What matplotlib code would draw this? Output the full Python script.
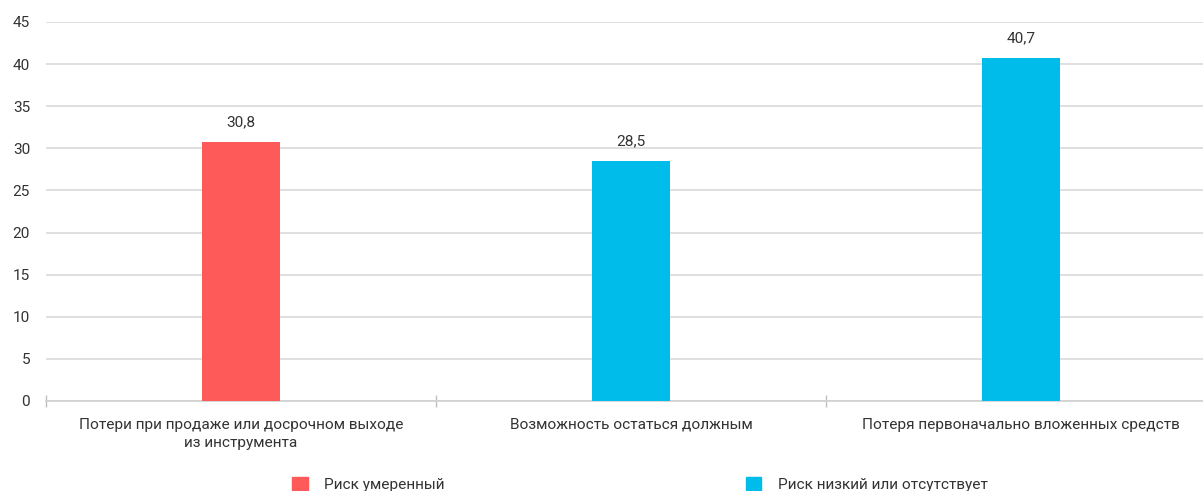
import numpy as np
import matplotlib
matplotlib.use('Agg')
from matplotlib import pyplot as plt
from matplotlib.patches import Patch

categories = ['Потери при продаже или досрочном выходе\nиз инструмента',
              'Возможность остаться должным',
              'Потеря первоначально вложенных средств']
values = [30.8, 28.5, 40.7]
risk = [0, 1, 1]
risk_names = ['Риск умеренный', 'Риск низкий или отсутствует']
risk_colors = ['#FF5A5A', '#00BCEB']
yticks = [0, 5, 10, 15, 20, 25, 30, 35, 40, 45]

plt.rcParams['font.family'] = ['Roboto', 'DejaVu Sans']
txt = '#333333'
fs = 11.1

fig = plt.figure(figsize=(12.03, 4.91), dpi=100)
ax = fig.add_axes([46 / 1203, 90 / 491, 1170 / 1203, 379 / 491])

x = np.arange(len(values))
cols = [risk_colors[r] for r in risk]
ax.bar(x, values, width=0.2, color=cols, zorder=3)
for i in range(len(x)):
    ax.annotate(('%.1f' % values[i]).replace('.', ','), xy=(x[i], values[i]),
                xytext=(0, 9), textcoords='offset points', ha='center', va='bottom',
                fontsize=fs, color=txt)

ax.set_xlim(-0.5, 2.5)
ax.set_ylim(0, 45)
ax.set_yticks(yticks)
ax.set_yticklabels([str(t) for t in yticks], fontsize=fs, color=txt)
ax.yaxis.grid(True, color='#d9d9d9', linewidth=1.2, zorder=0)
ax.set_xticks(x)
ax.set_xticklabels(categories, fontsize=fs, color=txt, linespacing=1.35)
ax.set_xticks([-0.5, 0.5, 1.5, 2.5], minor=True)
ax.tick_params(axis='x', which='major', length=0, pad=12)
ax.tick_params(axis='x', which='minor', length=8, direction='inout', color='#bfbfbf', width=1)
ax.tick_params(axis='y', length=0, pad=11.5)
for s in ['top', 'right', 'left']:
    ax.spines[s].set_visible(False)
ax.spines['bottom'].set_color('#d0d0d0')
ax.spines['bottom'].set_linewidth(1.2)
ax.set_axisbelow(True)

handles = [Patch(color=c, label=n) for c, n in zip(risk_colors, risk_names)]
fig.legend(handles=handles, loc='center', bbox_to_anchor=(0.532, 0.014), ncol=2,
           frameon=False, fontsize=fs, handlelength=1.0, handleheight=1.0,
           handletextpad=1.1, columnspacing=19.5, labelcolor=txt)

plt.savefig('out.png', dpi=100)
